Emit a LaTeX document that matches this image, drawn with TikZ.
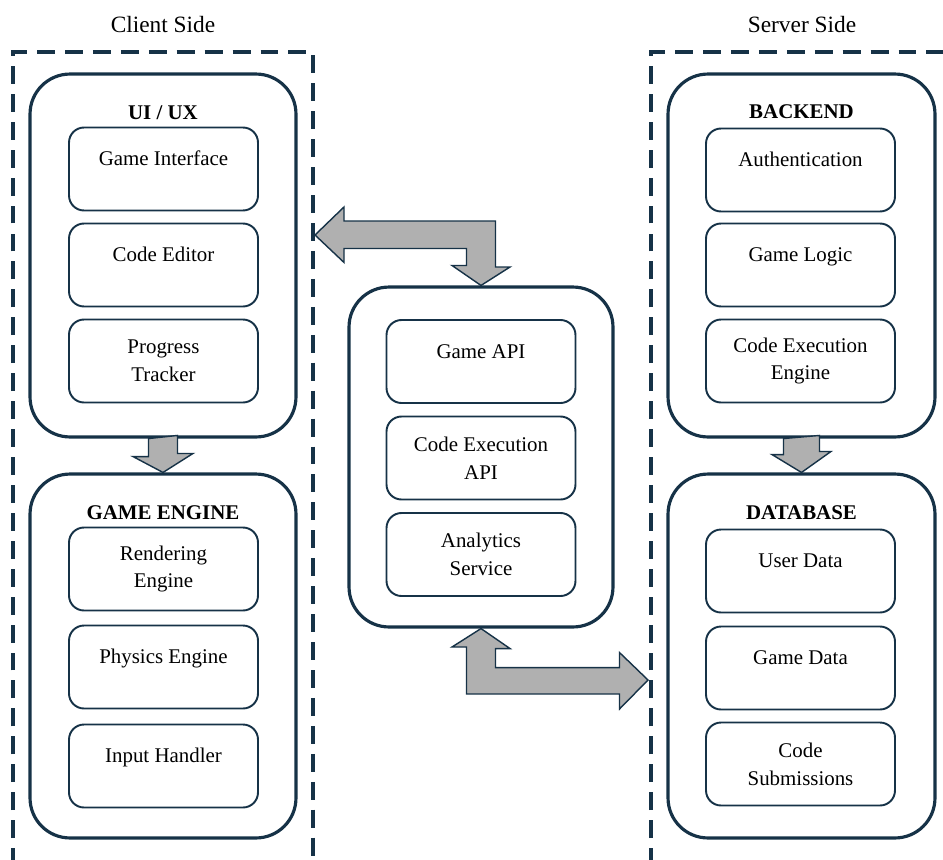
\documentclass[tikz,border=0pt]{standalone}
\usepackage{fontspec}
\setmainfont{Liberation Serif}
\usetikzlibrary{calc}
\definecolor{navy}{RGB}{22,50,71}
\definecolor{arrowgray}{RGB}{176,176,176}

\begin{document}
\begin{tikzpicture}[x=0.02cm, y=-0.02cm,
  every node/.style={font=\fontsize{11.9}{15.9}\selectfont},
  side/.style={font=\fontsize{13.3}{16}\selectfont},
  heading/.style={font=\fontsize{11.9}{15.9}\selectfont\bfseries},
  group/.style={draw=navy, line width=1.8pt, rounded corners=0.8cm, minimum width=5.32cm},
  item/.style={draw=navy, line width=1.1pt, rounded corners=0.3cm, align=center,
    minimum width=3.78cm, minimum height=1.66cm},
  oneline/.style={text height=9pt, text depth=12.5pt},
  border/.style={draw=navy, line width=1.8pt, dash pattern=on 10.2pt off 5.7pt},
  blockarrow/.style={draw=navy, line width=0.8pt, fill=arrowgray, line join=miter}]
\useasboundingbox (0,0) rectangle (943,859);

% client and server areas
\draw[border] (13,866) |- (313,52) -- (313,866);
\draw[border] (651,866) |- (950,52);
\node[side] (client) at (163,25) {Client Side};
\node[side] (server) at (802,25) {Server Side};
\coordinate (cedge) at (315,235);
\coordinate (sedge) at (648,680);

% outer groups
\node[group, minimum height=7.26cm] (ui) at (163,255.5) {};
\node[group, minimum height=7.28cm] (engine) at (163,656) {};
\node[group, minimum width=5.28cm, minimum height=6.8cm] (mid) at (481,457) {};
\node[group, minimum width=5.34cm, minimum height=7.26cm] (backend) at (801.5,255.5) {};
\node[group, minimum width=5.34cm, minimum height=7.28cm] (database) at (801.5,656) {};

% block arrows
\draw[blockarrow] ($(ui.south)+(-14.5,0)$) -- ++(0,18) -- ++(-15.5,0) -- (engine.north)
  -- ++(30,-19) -- ++(-15.5,0) -- ++(0,-18) -- cycle;
\draw[blockarrow] ($(backend.south)+(-18,0)$) -- ++(0,16) -- ++(-11.5,0) -- (database.north)
  -- ++(29.5,-21) -- ++(-11.5,0) -- ++(0,-16) -- cycle;
\draw[blockarrow] (cedge) -- ++(29,-28) -- ++(0,14) -- ++(151.5,0) -- ++(0,46) -- ++(14.5,0)
  -- (mid.north) -- ++(-29,-20) -- ++(14.5,0) -- ++(0,-17) -- ++(-122.5,0) -- ++(0,14) -- cycle;
\draw[blockarrow] (mid.south) -- ++(29,20) -- ++(-14.5,0) -- ++(0,19) -- ++(124,0) -- ++(0,-15)
  -- (sedge) -- ++(-28.5,29) -- ++(0,-15) -- ++(-153,0) -- ++(0,-47) -- ++(-14.5,0) -- cycle;

% UI / UX
\node[heading] (uititle) at (163,113) {UI / UX};
\node[item, oneline] (interface) at (163.5,169) {Game Interface};
\node[item, oneline] (editor) at (163.5,265) {Code Editor};
\node[item] (tracker) at (163.5,361) {Progress\\Tracker};

% game engine
\node[heading] (enginetitle) at (163,513) {GAME ENGINE};
\node[item] (rendering) at (163.5,569) {Rendering\\Engine};
\node[item, oneline] (physics) at (163.5,667) {Physics Engine};
\node[item, oneline] (input) at (163.5,766) {Input Handler};

% APIs
\node[item, oneline] (gameapi) at (481,361.5) {Game API};
\node[item] (execapi) at (481,458) {Code Execution\\API};
\node[item] (analytics) at (481,554.5) {Analytics\\Service};

% backend
\node[heading] (backendtitle) at (801.5,112) {BACKEND};
\node[item, oneline] (auth) at (800.5,170) {Authentication};
\node[item, oneline] (logic) at (800.5,265) {Game Logic};
\node[item] (execengine) at (800.5,361) {Code Execution\\Engine};

% database
\node[heading] (databasetitle) at (801.5,513) {DATABASE};
\node[item, oneline] (userdata) at (800.5,571) {User Data};
\node[item, oneline] (gamedata) at (800.5,668) {Game Data};
\node[item] (submissions) at (800.5,764) {Code\\Submissions};
\end{tikzpicture}
\end{document}
